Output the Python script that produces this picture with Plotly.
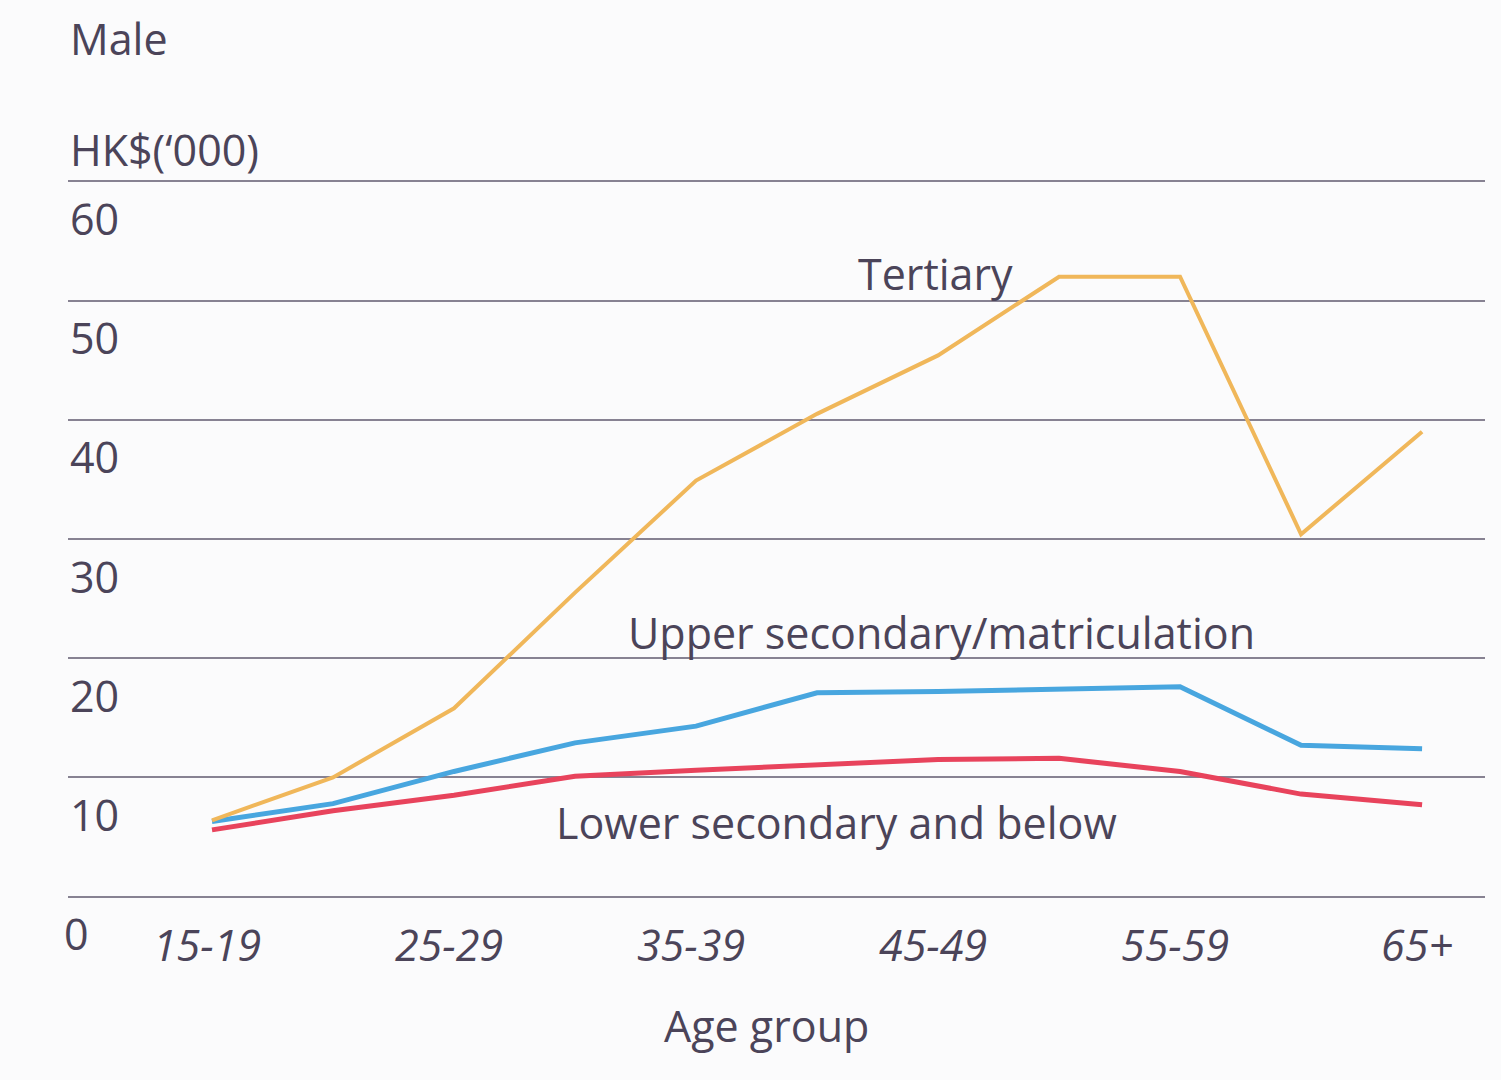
import plotly.graph_objects as go

# Median monthly employment earnings of males by age group and education
age_groups = ["15-19", "20-24", "25-29", "30-34", "35-39", "40-44",
              "45-49", "50-54", "55-59", "60-64", "65+"]
tertiary = [6.4, 10.0, 15.8, 25.5, 34.9, 40.5, 45.4, 52.0, 52.0, 30.4, 39.0]
upper_secondary = [6.3, 7.8, 10.5, 12.9, 14.3, 17.1, 17.2, 17.4, 17.6, 12.7, 12.4]
lower_secondary = [5.6, 7.2, 8.5, 10.1, 10.6, 11.0, 11.5, 11.6, 10.5, 8.6, 7.7]

x_tick_labels = ["15-19", "25-29", "35-39", "45-49", "55-59", "65+"]
y_ticks = [0, 10, 20, 30, 40, 50, 60]

TEXT = "#4b4459"
FONT = "Open Sans"
FS = 43

fig = go.Figure()

fig.add_trace(go.Scatter(x=age_groups, y=lower_secondary, mode="lines",
                         line=dict(color="#e8435c", width=5), name="Lower secondary and below"))
fig.add_trace(go.Scatter(x=age_groups, y=upper_secondary, mode="lines",
                         line=dict(color="#48a6df", width=5), name="Upper secondary/matriculation"))
fig.add_trace(go.Scatter(x=age_groups, y=tertiary, mode="lines",
                         line=dict(color="#f0b75a", width=4), name="Tertiary"))

# plot area geometry (pixels) used to place the free text
L, R, T, B = 68, 16, 179, 181
W, H = 1501 - L - R, 1080 - T - B


def px(xp):
    return (xp - L) / W


def py(yp):
    return (1080 - B - yp) / H


annotations = []
# y-axis values sit just beneath their gridlines
for v in y_ticks:
    annotations.append(dict(x=0 if v else -0.004, y=v, xref="paper", yref="y",
                            text=str(v), showarrow=False, xanchor="left", yanchor="middle",
                            yshift=-37, font=dict(family=FONT, size=FS, color=TEXT)))

texts = [
    ("Male", 68, 38, "left"),
    ("HK$(‘000)", 68, 150, "left"),
    ("Tertiary", 935, 273, "center"),
    ("Upper secondary/matriculation", 941, 632, "center"),
    ("Lower secondary and below", 836, 822, "center"),
    ("Age group", 766, 1025, "center"),
]
for t, xp, yp, anc in texts:
    annotations.append(dict(x=px(xp), y=py(yp), xref="paper", yref="paper", text=t,
                            showarrow=False, xanchor=anc, yanchor="middle",
                            font=dict(family=FONT, size=FS, color=TEXT)))

fig.update_layout(
    width=1501, height=1080,
    margin=dict(l=L, r=R, t=T, b=B),
    paper_bgcolor="#fbfbfc", plot_bgcolor="#fbfbfc",
    showlegend=False,
    annotations=annotations,
    xaxis=dict(type="category", categoryorder="array", categoryarray=age_groups,
               range=[-1.19, 10.52], showgrid=False, zeroline=False, showline=False,
               tickmode="array", tickvals=x_tick_labels, ticktext=x_tick_labels,
               ticks="", ticklen=0, ticklabelstandoff=18, ticklabelshift=-5,
               tickfont=dict(family=FONT, size=FS, color=TEXT, style="italic")),
    yaxis=dict(range=[-0.2, 60.2], tickvals=y_ticks, showticklabels=False,
               showgrid=True, gridcolor="#878292", gridwidth=1.6,
               zeroline=False, showline=False),
)

fig.write_html("out.html")
